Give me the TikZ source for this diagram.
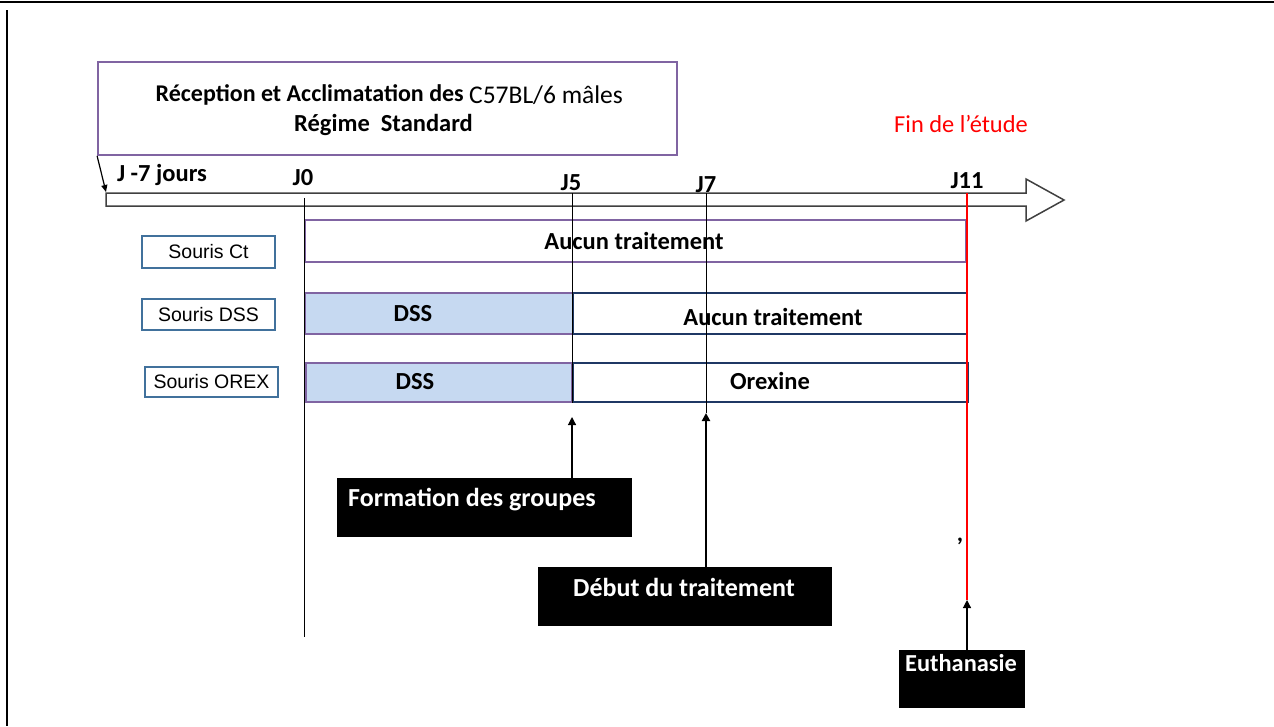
\documentclass[tikz,border=0pt]{standalone}
\usepackage{fontspec}
\setmainfont{Carlito}
\newfontfamily\arialf{Liberation Sans}
\usetikzlibrary{arrows.meta}
\definecolor{purp}{RGB}{128,100,162}
\definecolor{lblue}{RGB}{198,217,241}
\definecolor{navy}{RGB}{31,56,100}
\definecolor{steel}{RGB}{65,113,156}
\definecolor{tgray}{RGB}{64,64,64}
\begin{document}
\begin{tikzpicture}[x=1pt,y=-1pt,
  bt/.style={font=\fontsize{24.5}{28}\selectfont\bfseries, inner sep=0pt},
  rowbox/.style={draw=purp, line width=1.6pt, inner sep=0pt},
  dssbox/.style={draw=purp, fill=lblue, line width=1.6pt, inner sep=0pt},
  navybox/.style={draw=navy, line width=1.8pt, inner sep=0pt},
  lblbox/.style={draw=steel, line width=2pt, inner sep=0pt, minimum width=133pt, font=\arialf\fontsize{19.5}{22}\selectfont},
  blackbox/.style={fill=black, inner sep=0pt},
  wt/.style={text=white, font=\fontsize{26}{30}\selectfont\bfseries, inner sep=0pt},
  arr/.style={-{Triangle[length=8pt,width=8pt]}, line width=1.2pt},
  vline/.style={line width=1pt}
]
\useasboundingbox (0,0) rectangle (1274,726);
% frame
\draw[line width=1.5pt] (0,2) -- (1274,2);
\draw[line width=1.2pt] (7,10) -- (7,726);

% top box
\node[draw=purp, line width=1.8pt, minimum width=579pt, minimum height=93pt, inner sep=0pt] (accl) at (387.5,108.5) {};
\node[bt, font=\fontsize{24}{28}\selectfont\bfseries, anchor=east] (l1a) at (464,95) {Réception et Acclimatation des};
\node[inner sep=0pt, anchor=west, font=\fontsize{25.5}{30}\selectfont] (l1b) at (469,95) {C57BL/6 mâles};
\node[bt] (l2) at (383.5,125) {Régime~~Standard};

% timeline arrow
\draw[tgray, line width=1.5pt, fill=white] (106,193) -- (1026,193) -- (1026,179) -- (1064,200) -- (1026,221) -- (1026,206) -- (106,206) -- cycle;
\coordinate (tstart) at (106,192);
\draw[-{Triangle[length=7pt,width=6pt]}, line width=1.2pt] (accl.south west) -- (tstart);

% day labels
\node[bt] (jm7) at (162,175) {J -7 jours};
\node[bt] (j0) at (303,178) {J0};
\node[bt] (j5) at (571,183) {J5};
\node[bt] (j7) at (706,185) {J7};
\node[bt] (j11) at (967,181) {J11};
\node[text=red, inner sep=0pt, font=\fontsize{24.4}{28}\selectfont] (fin) at (961,124) {Fin de l’étude};

% rows
\node[rowbox, minimum width=661pt, minimum height=42pt] (ct) at (635.5,241) {};
\node[bt] (ctt) at (634,241) {Aucun traitement};
\node[dssbox, minimum width=268pt, minimum height=41pt] (dss1) at (439,313.5) {};
\node[bt] (dss1t) at (413,314) {DSS};
\node[navybox, minimum width=394pt, minimum height=41pt] (dss2) at (770,313.5) {};
\node[bt] (dss2t) at (773,317) {Aucun traitement};
\node[dssbox, minimum width=266pt, minimum height=39pt] (orex1) at (439,382.5) {};
\node[bt] (orex1t) at (415,382) {DSS};
\node[navybox, minimum width=395pt, minimum height=39pt] (orex2) at (770.5,382.5) {};
\node[bt] (orex2t) at (770,381) {Orexine};

% labels
\node[lblbox, minimum height=32pt] (ctl) at (208.5,252) {Souris Ct};
\node[lblbox, minimum height=31pt] (dssl) at (208.5,314.5) {Souris DSS};
\node[lblbox, minimum height=30pt] (orexl) at (211.5,382) {Souris OREX};

% vertical lines
\coordinate (j0a) at (304,198);
\coordinate (j0b) at (304,637);
\coordinate (j5a) at (572,193);
\coordinate (j5b) at (572,403);
\coordinate (j7a) at (706,193);
\coordinate (j7b) at (706,413);
\coordinate (j11a) at (967,193);
\coordinate (j11b) at (967,600);
\coordinate (j5c) at (572,417);
\draw[vline] (j0a) -- (j0b);
\draw[vline] (j5a) -- (j5b);
\draw[vline] (j7a) -- (j7b);
\draw[red, line width=2.4pt] (j11a) -- (j11b);

% black boxes
\node[blackbox, minimum width=295pt, minimum height=59pt] (form) at (484.5,507.5) {};
\node[wt, anchor=west] (formt) at (348,500) {Formation des groupes};
\node[blackbox, minimum width=294pt, minimum height=59pt] (debut) at (685,596.5) {};
\node[wt] (debutt) at (684,587) {Début du traitement};
\node[blackbox, minimum width=126pt, minimum height=58pt] (euth) at (962,679) {};
\node[wt, font=\fontsize{24.4}{28}\selectfont\bfseries] (eutht) at (961,663) {Euthanasie};
\node[bt] (comma) at (960,541) {,};

% arrows
\draw[arr] (j5c |- form.north) -- (j5c);
\draw[arr, line width=2pt] (j7b |- debut.north) -- (j7b);
\draw[arr] (j11b |- euth.north) -- (j11b);
\end{tikzpicture}
\end{document}
